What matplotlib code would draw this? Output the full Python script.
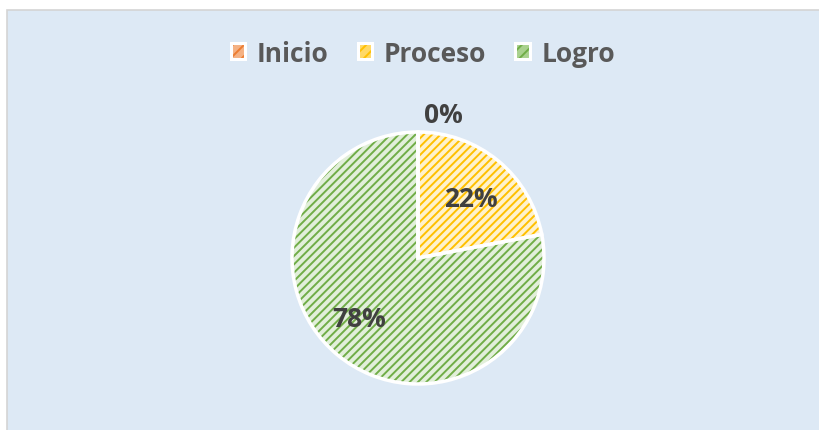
import matplotlib.pyplot as plt
from matplotlib.patches import Rectangle

# Datos del gráfico
categorias = ['Inicio', 'Proceso', 'Logro']
valores = [0, 22, 78]
etiquetas = ['0%', '22%', '78%']

relleno = ['#FBE0CF', '#FFF2CC', '#E2EFDA']
relleno_ley = ['#F4B183', '#FFD966', '#A9D18E']
trama = ['#ED7D31', '#FFC000', '#70AD47']

plt.rcParams['font.family'] = ['Open Sans', 'DejaVu Sans']
plt.rcParams['hatch.linewidth'] = 1.4

fig = plt.figure(figsize=(8.2, 4.31), dpi=100)

# Fondo azul claro del área del gráfico con borde gris arriba/izquierda
fig.patches.append(Rectangle((7 / 820, -0.01), 1, 1.01 - 11 / 431, transform=fig.transFigure,
                             facecolor='#DDE9F5', edgecolor='#D4D4D4', linewidth=1.2,
                             zorder=-5))

# Ejes para la torta: centro (418, 259), radio ~126 px
r = 126
cx, cy = 418, 431 - 259
ax = fig.add_axes([(cx - r) / 820, (cy - r) / 431, 2 * r / 820, 2 * r / 431])

# Capa de relleno pálido
w1, _ = ax.pie(valores, colors=relleno, startangle=90, counterclock=False, radius=1,
               wedgeprops=dict(linewidth=0))
# Capa con la trama diagonal
w2, _ = ax.pie(valores, startangle=90, counterclock=False, radius=1,
               wedgeprops=dict(linewidth=0, facecolor='none'))
for w, c in zip(w2, trama):
    w.set_edgecolor(c)
    w.set_hatch('////')
    w.set_linewidth(0)
# Borde blanco
w3, _ = ax.pie(valores, startangle=90, counterclock=False, radius=1,
               wedgeprops=dict(linewidth=2.5, edgecolor='white', facecolor='none'))

ax.set_xlim(-1, 1)
ax.set_ylim(-1, 1)
ax.axis('off')

# Etiquetas de porcentaje
pos = [(0.2, 1.14), (0.42, 0.47), (-0.47, -0.48)]
for (x, y), t in zip(pos, etiquetas):
    ax.text(x, y, t, ha='center', va='center', fontsize=19, fontweight='bold',
            color='#404040', clip_on=False)

# Leyenda: cuadro tramado con borde blanco
handles = []
for f, c in zip(relleno_ley, trama):
    dentro = Rectangle((0, 0), 1, 1, facecolor=f, edgecolor=c, linewidth=0,
                       hatch='///')
    borde = Rectangle((0, 0), 1, 1, facecolor='none', edgecolor='white', linewidth=2.2)
    handles.append((dentro, borde))
leg = fig.legend(handles, categorias, loc='center', bbox_to_anchor=(423 / 820, 1 - 54 / 431),
                 ncol=3, frameon=False, prop=dict(size=19, weight='bold'),
                 handlelength=0.55, handleheight=0.55, handletextpad=0.45, columnspacing=1.1)
for t in leg.get_texts():
    t.set_color('#595959')

fig.savefig('out.png', dpi=100)
